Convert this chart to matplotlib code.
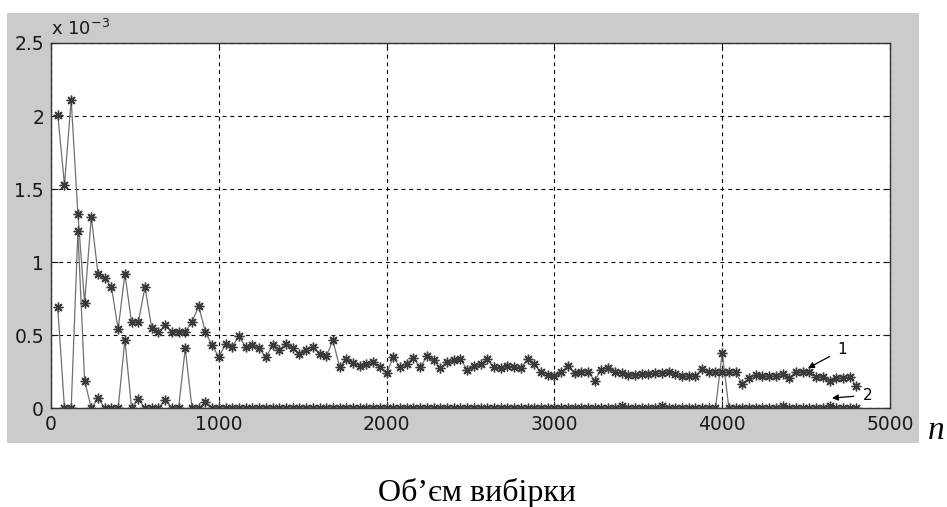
import numpy as np
import matplotlib.pyplot as plt
from matplotlib.patches import Rectangle

# sample sizes (every 40 up to 4800)
n = np.arange(40, 4801, 40)

# error estimates, in units of 1e-3
err_1 = [2.01, 1.53, 2.11, 1.33, 0.72, 1.31, 0.92, 0.89, 0.83, 0.54,
         0.92, 0.59, 0.59, 0.83, 0.55, 0.52, 0.57, 0.525, 0.525, 0.525,
         0.59, 0.70, 0.52, 0.43, 0.35, 0.44, 0.42, 0.495, 0.42, 0.43,
         0.41, 0.35, 0.43, 0.40, 0.44, 0.41, 0.37, 0.40, 0.42, 0.37,
         0.355, 0.465, 0.28, 0.34, 0.31, 0.29, 0.30, 0.32, 0.28, 0.24,
         0.35, 0.28, 0.305, 0.345, 0.28, 0.355, 0.33, 0.275, 0.315, 0.33,
         0.335, 0.265, 0.29, 0.30, 0.335, 0.28, 0.275, 0.29, 0.28, 0.275,
         0.335, 0.30, 0.25, 0.23, 0.22, 0.245, 0.29, 0.24, 0.245, 0.25,
         0.19, 0.265, 0.275, 0.25, 0.24, 0.23, 0.23, 0.235, 0.235, 0.24,
         0.24, 0.25, 0.235, 0.22, 0.22, 0.22, 0.27, 0.245, 0.245, 0.245,
         0.245, 0.245, 0.165, 0.205, 0.23, 0.22, 0.22, 0.22, 0.235, 0.205,
         0.25, 0.25, 0.25, 0.215, 0.215, 0.19, 0.205, 0.205, 0.215, 0.15]

err_2 = [0.69, 0.0, 0.0, 1.21, 0.19, 0.0, 0.07, 0.0, 0.0, 0.0,
         0.47, 0.0, 0.065, 0.0, 0.0, 0.0, 0.06, 0.0, 0.0, 0.41,
         0.0, 0.0, 0.04, 0.0, 0.0, 0.0, 0.0, 0.0, 0.0, 0.0,
         0.0, 0.0, 0.0, 0.0, 0.0, 0.0, 0.0, 0.0, 0.0, 0.0,
         0.0, 0.0, 0.0, 0.0, 0.0, 0.0, 0.0, 0.0, 0.0, 0.0,
         0.0, 0.0, 0.0, 0.0, 0.0, 0.0, 0.0, 0.0, 0.0, 0.0,
         0.0, 0.0, 0.0, 0.0, 0.0, 0.0, 0.0, 0.0, 0.0, 0.0,
         0.0, 0.0, 0.0, 0.0, 0.0, 0.0, 0.0, 0.0, 0.0, 0.0,
         0.0, 0.0, 0.0, 0.0, 0.015, 0.0, 0.0, 0.0, 0.0, 0.0,
         0.015, 0.0, 0.0, 0.0, 0.0, 0.0, 0.0, 0.0, 0.0, 0.38,
         0.0, 0.0, 0.0, 0.0, 0.0, 0.0, 0.0, 0.0, 0.015, 0.0,
         0.0, 0.0, 0.0, 0.0, 0.0, 0.015, 0.0, 0.0, 0.0, 0.0]

xticks = [0, 1000, 2000, 3000, 4000, 5000]
yticks = [0, 0.5, 1, 1.5, 2, 2.5]
ytick_labels = ['0', '0.5', '1', '1.5', '2', '2.5']

fig = plt.figure(figsize=(9.47, 5.07), dpi=100)
fig.patch.set_facecolor('white')

# grey frame behind the axes
fig.patches.append(Rectangle((0.0074, 0.1262), 0.963, 0.848,
                             transform=fig.transFigure, facecolor='#cbcbcb',
                             edgecolor='none', zorder=-10))

ax = fig.add_axes([0.0539, 0.1947, 0.8859, 0.7205])
ax.set_zorder(5)
ax.set_facecolor('white')

# line plus an eight-armed asterisk marker at each sample size
for y in (err_1, err_2):
    ax.plot(n, y, color='#707070', lw=0.9, zorder=3)
    ax.plot(n, y, ls='none', marker=(8, 2, 0), ms=7, mec='#3a3a3a',
            mew=1.0, zorder=4)

ax.set_xlim(0, 5000)
ax.set_ylim(0, 2.5)
ax.set_xticks(xticks)
ax.set_yticks(yticks)
ax.set_yticklabels(ytick_labels)
ax.tick_params(direction='in', length=5, width=0.8, top=True, right=True,
               labelsize=13.5, colors='#1a1a1a', pad=5)
for lab in ax.get_xticklabels() + ax.get_yticklabels():
    lab.set_family('DejaVu Sans')

ax.grid(True, color='black', lw=0.8, ls=(0, (3.5, 3.5)))
ax.set_axisbelow(True)
for s in ax.spines.values():
    s.set_color('#333333')
    s.set_linewidth(1.0)

# exponent marker above the y axis
ax.text(0.0, 1.01, r'x 10$^{-3}$', transform=ax.transAxes, fontsize=13,
        family='DejaVu Sans', ha='left', va='bottom', color='#1a1a1a')

# curve labels with arrows
ax.annotate('1', xy=(4511, 0.275), xytext=(4714, 0.40), fontsize=11,
            family='DejaVu Sans', ha='center', va='center',
            arrowprops=dict(arrowstyle='-|>', color='black', lw=0.9,
                            mutation_scale=9, shrinkA=4, shrinkB=0))
ax.annotate('2', xy=(4654, 0.07), xytext=(4870, 0.09), fontsize=11,
            family='DejaVu Sans', ha='center', va='center',
            annotation_clip=False,
            arrowprops=dict(arrowstyle='-|>', color='black', lw=0.9,
                            mutation_scale=9, shrinkA=5, shrinkB=0))

fig.text(0.989, 0.151, 'n', fontsize=24, family='Liberation Serif',
         style='italic', ha='center', va='center')
fig.text(0.504, 0.027, 'Об’єм вибірки', fontsize=23,
         family='Liberation Serif', ha='center', va='center')

fig.savefig('out.png', dpi=100)
